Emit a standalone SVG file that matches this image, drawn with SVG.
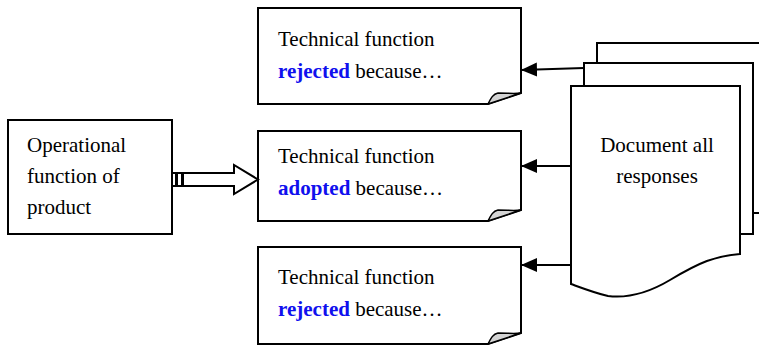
<svg xmlns="http://www.w3.org/2000/svg" width="759" height="346" viewBox="0 0 759 346">
  <style>
    .box { fill: #ffffff; stroke: #000000; stroke-width: 2; }
    .curl { fill: #d4d4d4; stroke: #000000; stroke-width: 1.5; stroke-linejoin: round; }
    .txt { font-family: "Liberation Serif", "Times New Roman", serif; font-size: 21px; fill: #000000; }
    .hl { font-weight: bold; fill: #1010ee; }
    .conn { stroke: #000000; stroke-width: 2; fill: none; }
    .fat { fill: #ffffff; stroke: #000000; stroke-width: 2; stroke-linejoin: miter; }
  </style>
  <defs>
    <marker id="tri" viewBox="0 0 16 14" refX="16" refY="7" markerWidth="16" markerHeight="14" markerUnits="userSpaceOnUse" orient="auto">
      <path d="M0,0 L16,7 L0,14 Z" fill="#000000"/>
    </marker>
  </defs>

  <rect width="759" height="346" fill="#ffffff"/>

  <!-- operational function -->
  <g id="operational">
    <rect class="box" x="8" y="120" width="164" height="114"/>
    <text class="txt" x="27" y="152">Operational</text>
    <text class="txt" x="27" y="183">function of</text>
    <text class="txt" x="27" y="214">product</text>
  </g>

  <!-- outcome notes with curled corner -->
  <g id="rejected-1">
    <path class="box" d="M258,8 H521 V93 L488,104 H258 Z"/>
    <path class="curl" d="M488,104 C491,98 493,94 498,93 C508,93 514,94 521,93 Z"/>
    <text class="txt" x="278" y="46">Technical function</text>
    <text class="txt" x="278" y="78"><tspan class="hl">rejected</tspan> because…</text>
  </g>

  <g id="adopted">
    <path class="box" d="M258,131 H521 V210 L488,221 H258 Z"/>
    <path class="curl" d="M488,221 C491,215 493,211 498,210 C508,210 514,211 521,210 Z"/>
    <text class="txt" x="278" y="163">Technical function</text>
    <text class="txt" x="278" y="195"><tspan class="hl">adopted</tspan> because…</text>
  </g>

  <g id="rejected-2">
    <path class="box" d="M258,247 H521 V333 L488,344 H258 Z"/>
    <path class="curl" d="M488,344 C491,338 493,334 498,333 C508,333 514,334 521,333 Z"/>
    <text class="txt" x="278" y="284">Technical function</text>
    <text class="txt" x="278" y="316"><tspan class="hl">rejected</tspan> because…</text>
  </g>

  <!-- stacked documents -->
  <g id="documents">
    <rect class="box" x="597" y="43" width="200" height="170"/>
    <rect class="box" x="584" y="63" width="169" height="171"/>
    <path class="box" d="M571,86 H740 V254 C715,256 700,262 670,280 C645,295 625,298 608,296 C595,293 582,288 571,284 Z"/>
    <text class="txt" x="657" y="152" text-anchor="middle">Document all</text>
    <text class="txt" x="657" y="183" text-anchor="middle">responses</text>
  </g>

  <!-- connectors -->
  <g id="connectors">
    <path class="conn" d="M584,68 L521,70" marker-end="url(#tri)"/>
    <path class="conn" d="M571,166 L521,166" marker-end="url(#tri)"/>
    <path class="conn" d="M571,265 L521,265" marker-end="url(#tri)"/>
    <g id="block-arrow">
      <rect class="fat" x="172" y="173" width="4" height="13" stroke-width="1.5"/>
      <rect class="fat" x="177" y="173" width="5" height="13" stroke-width="1.5"/>
      <path class="fat" d="M183,173 H234 V165 L258,179.5 L234,194 V186 H183 Z"/>
    </g>
  </g>
</svg>
